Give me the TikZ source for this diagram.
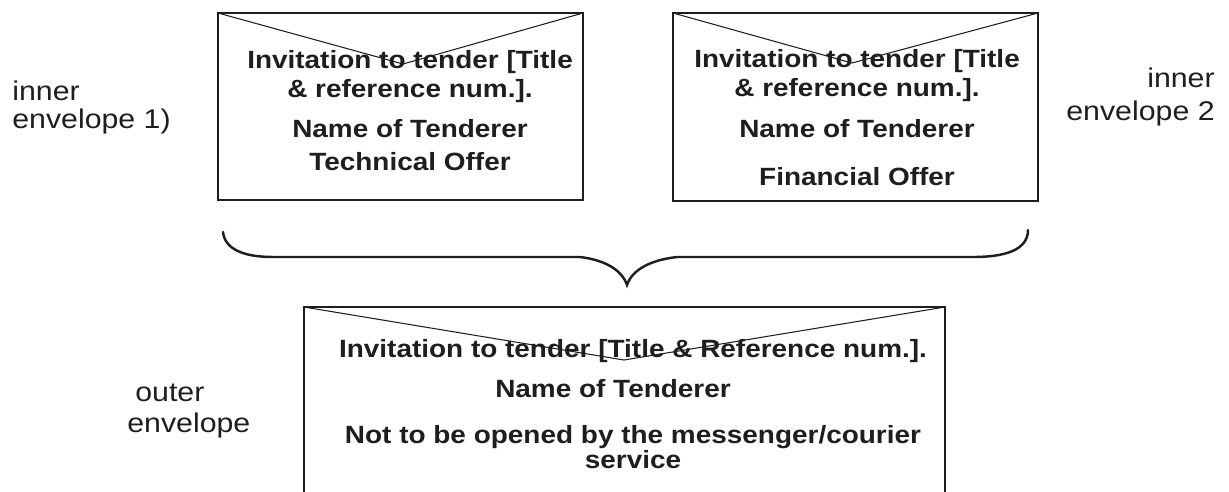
\documentclass[tikz,border=0pt]{standalone}
\usepackage{fontspec}
\setmainfont{Liberation Sans}[FakeStretch=1.12]
\usepackage{tikz}
\usetikzlibrary{positioning}
\definecolor{inkgrey}{RGB}{30,30,30}

\begin{document}
\begin{tikzpicture}[
    x=0.02cm, y=-0.02cm,
    envelope/.style={draw=inkgrey, line width=0.7pt, inner sep=0pt, outer sep=0pt},
    flap/.style={draw=inkgrey, line width=0.6pt},
    offer/.style={font=\fontsize{14.2}{16.5}\selectfont\bfseries, text=inkgrey,
                  align=center, inner sep=0pt},
    side/.style={font=\fontsize{15.4}{14.4}\selectfont, text=inkgrey, inner sep=0pt},
    brace/.style={draw=inkgrey, line width=1.4pt, line cap=round},
]
    \useasboundingbox (0,0) rectangle (1229,491);

    % envelopes
    \node[envelope, minimum width=7.3cm, minimum height=3.74cm] (inner1) at (400.5,106.5) {};
    \node[envelope, minimum width=7.3cm, minimum height=3.76cm] (inner2) at (855.5,107) {};
    \node[envelope, minimum width=12.82cm, minimum height=3.8cm] (outer) at (624.5,402) {};

    % flaps
    \coordinate (tip1) at (403,64);
    \coordinate (tip2) at (852,63);
    \coordinate (tip3) at (624,360);
    \draw[flap] (inner1.north west) -- (tip1) -- (inner1.north east);
    \draw[flap] (inner2.north west) -- (tip2) -- (inner2.north east);
    \draw[flap] (outer.north west) -- (tip3) -- (outer.north east);

    % addresses (anchored on the last line)
    \node[offer, anchor=base] (text1) at (410,170)
        {Invitation to tender [Title\\\& reference num.].\\[0.22cm]
         Name of Tenderer\\[0.08cm]Technical Offer};
    \node[offer, anchor=base] (text2) at (857,185)
        {Invitation to tender [Title\\\& reference num.].\\[0.24cm]
         Name of Tenderer\\[0.38cm]Financial Offer};
    \node[offer, anchor=base] (text3) at (633,468)
        {Invitation to tender [Title \& Reference num.].\\[0.22cm]
         \hspace*{-0.8cm}Name of Tenderer\\[0.34cm]
         Not to be opened by the messenger/courier\\[-0.08cm]service};

    % side labels
    \node[side, anchor=base west, align=left] (label1) at (12,128) {inner\\[0.04cm]envelope 1)};
    \node[side, anchor=base east, align=right] (label2) at (1215,120) {inner\\[0.14cm]envelope 2};
    \node[side, anchor=base west, align=left] (label3) at (127,432) {\hspace{0.16cm}outer\\[0.1cm]envelope};

    % curly brace
    \coordinate (braceL) at (223,232);
    \coordinate (braceM) at (627,285);
    \coordinate (braceR) at (1028,230);
    \draw[brace] (braceL) .. controls (225,250) and (245,257) .. (273,257)
        -- (580,257) .. controls (605,260) and (622,270) .. (braceM)
        .. controls (632,270) and (650,260) .. (677,257)
        -- (973,257) .. controls (1005,257) and (1028,250) .. (braceR);
\end{tikzpicture}
\end{document}
